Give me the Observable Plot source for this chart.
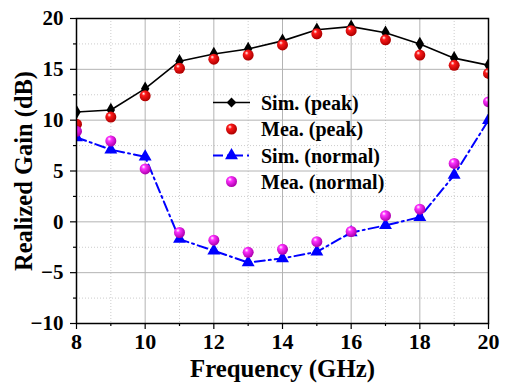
<!DOCTYPE html>
<html><head><meta charset="utf-8">
<script src="https://cdn.jsdelivr.net/npm/d3@7"></script>
<script src="https://cdn.jsdelivr.net/npm/@observablehq/plot@0.6"></script>
<style>
html,body{margin:0;padding:0;background:#fff;}
</style>
</head><body>
<div id="chart"></div>
<script>
const freq = [8, 9, 10, 11, 12, 13, 14, 15, 16, 17, 18, 19, 20];
const simPeak = [10.8, 11.0, 13.1, 15.8, 16.5, 17.0, 17.8, 18.9, 19.2, 18.6, 17.5, 16.1, 15.4];
const meaPeak = [9.6, 10.3, 12.4, 15.1, 16.0, 16.4, 17.4, 18.5, 18.8, 17.9, 16.4, 15.4, 14.6];
const simNormal = [8.3, 7.1, 6.4, -1.7, -2.85, -4.0, -3.6, -2.95, -1.05, -0.35, 0.45, 4.6, 10.0];
const meaNormal = [8.9, 7.95, 5.2, -1.05, -1.8, -3.0, -2.7, -1.95, -0.95, 0.6, 1.25, 5.75, 11.8];
const xMajor = [8, 10, 12, 14, 16, 18, 20];
const xMinor = [9, 11, 13, 15, 17, 19];
const yMajor = [-10, -5, 0, 5, 10, 15, 20];
const yMinor = [-7.5, -2.5, 2.5, 7.5, 12.5, 17.5];
const seriesNames = ["Sim. (peak)", "Mea. (peak)", "Sim. (normal)", "Mea. (normal)"];
const xTitle = "Frequency (GHz)";
const yTitle = "Realized Gain (dB)";

const rows = a => freq.map((f, i) => ({f, v: a[i]}));
const font = "'Liberation Serif', 'Times New Roman', serif";

const svg = Plot.plot({
  width: 507, height: 390,
  marginLeft: 76, marginRight: 19, marginTop: 18, marginBottom: 67,
  x: {domain: [8, 20]},
  y: {domain: [-10, 20]},
  style: {fontWeight: "bold", fontSize: "20px", color: "#000", background: "#fff"},
  marks: [
    Plot.gridX(xMinor, {stroke: "#ccc", strokeOpacity: 1, strokeDasharray: "1,2"}),
    Plot.gridY(yMinor, {stroke: "#ccc", strokeOpacity: 1, strokeDasharray: "1,2"}),
    Plot.gridX(xMajor, {stroke: "#b4b4b4", strokeOpacity: 1}),
    Plot.gridY(yMajor, {stroke: "#b4b4b4", strokeOpacity: 1}),
    Plot.axisX(xMinor, {tickSize: 3, text: null, label: null, stroke: "#000", strokeWidth: 1.2}),
    Plot.axisY(yMinor, {tickSize: 3, text: null, label: null, stroke: "#000", strokeWidth: 1.2}),
    Plot.axisX(xMajor, {tickSize: 6, tickPadding: 4, label: null, stroke: "#000", strokeWidth: 1.2, fontSize: 22, fontFamily: font, fontWeight: "bold"}),
    Plot.axisY(yMajor, {tickSize: 6, tickPadding: 7, label: null, stroke: "#000", strokeWidth: 1.2, fontSize: 21, fontFamily: font, fontWeight: "bold"}),
    Plot.text([xTitle], {frameAnchor: "bottom", dy: 53, fontSize: 25.5, fontWeight: "bold", fontFamily: font, textAnchor: "middle"}),
    Plot.text([yTitle], {frameAnchor: "left", dx: -52, rotate: -90, fontSize: 24.5, fontWeight: "bold", fontFamily: font, textAnchor: "middle"}),
    Plot.line(rows(simPeak), {x: "f", y: "v", stroke: "#000", strokeWidth: 1.6, clip: true}),
    Plot.line(rows(simNormal), {x: "f", y: "v", stroke: "#0000ff", strokeWidth: 2, strokeDasharray: "10,4,2,4", clip: true}),
    Plot.dot(rows(simPeak), {x: "f", y: "v", symbol: "diamond", r: 4.4, fill: "#000", stroke: "none", clip: true}),
    Plot.dot(rows(meaPeak), {x: "f", y: "v", r: 5.5, fill: "url(#gradRed)", stroke: "none", clip: true}),
    Plot.dot(rows(simNormal), {x: "f", y: "v", symbol: "triangle", r: 4.8, fill: "#0000ff", stroke: "none", clip: true}),
    Plot.dot(rows(meaNormal), {x: "f", y: "v", r: 5.5, fill: "url(#gradMag)", stroke: "none", clip: true}),
    Plot.frame({stroke: "#000", strokeWidth: 1.5})
  ]
});
document.getElementById("chart").appendChild(svg);

const s = d3.select(svg);
s.attr("font-family", font);
s.selectAll("text").attr("font-family", font).attr("font-weight", "bold");
// slightly condensed axis title, as in the reference
s.selectAll("text").filter(function() { return this.textContent === xTitle; })
  .attr("textLength", 185).attr("lengthAdjust", "spacingAndGlyphs");

const defs = s.insert("defs", ":first-child");
function grad(id, mid, dark) {
  const g = defs.append("radialGradient").attr("id", id)
    .attr("cx", "40%").attr("cy", "38%").attr("r", "60%").attr("fx", "35%").attr("fy", "30%");
  g.append("stop").attr("offset", "0%").attr("stop-color", "#fff");
  g.append("stop").attr("offset", "30%").attr("stop-color", mid);
  g.append("stop").attr("offset", "100%").attr("stop-color", dark);
}
grad("gradRed", "#ff1a1a", "#b00000");
grad("gradMag", "#ff33ff", "#b000b0");

// legend
const lg = s.append("g").attr("font-family", font).attr("font-weight", "bold").attr("font-size", 20).attr("text-anchor", "start");
const rowsY = [102.5, 129, 155.5, 181.5];
const lx0 = 213, lx1 = 250, mx = 231.5, tx = 261;
seriesNames.forEach((name, i) => {
  const y = rowsY[i];
  const g = lg.append("g");
  if (i === 0) {
    g.append("line").attr("x1", lx0).attr("x2", lx1).attr("y1", y).attr("y2", y).attr("stroke", "#000").attr("stroke-width", 1.6);
    g.append("path").attr("d", d3.symbol(d3.symbolDiamond2, 4.4 * 4.4 * Math.PI)()).attr("transform", `translate(${mx},${y})`).attr("fill", "#000");
  } else if (i === 2) {
    g.append("line").attr("x1", lx0).attr("x2", lx1).attr("y1", y).attr("y2", y).attr("stroke", "#0000ff").attr("stroke-width", 2).attr("stroke-dasharray", "10,4,2,4");
    g.append("path").attr("d", d3.symbol(d3.symbolTriangle, 4.8 * 4.8 * Math.PI)()).attr("transform", `translate(${mx},${y})`).attr("fill", "#0000ff");
  } else {
    g.append("circle").attr("cx", mx).attr("cy", y).attr("r", 5.5).attr("fill", i === 1 ? "url(#gradRed)" : "url(#gradMag)");
  }
  g.append("text").attr("x", tx).attr("y", y).attr("dy", "0.35em").attr("text-anchor", "start").attr("font-family", font).attr("fill", "#000").text(name);
});
</script>
</body></html>
